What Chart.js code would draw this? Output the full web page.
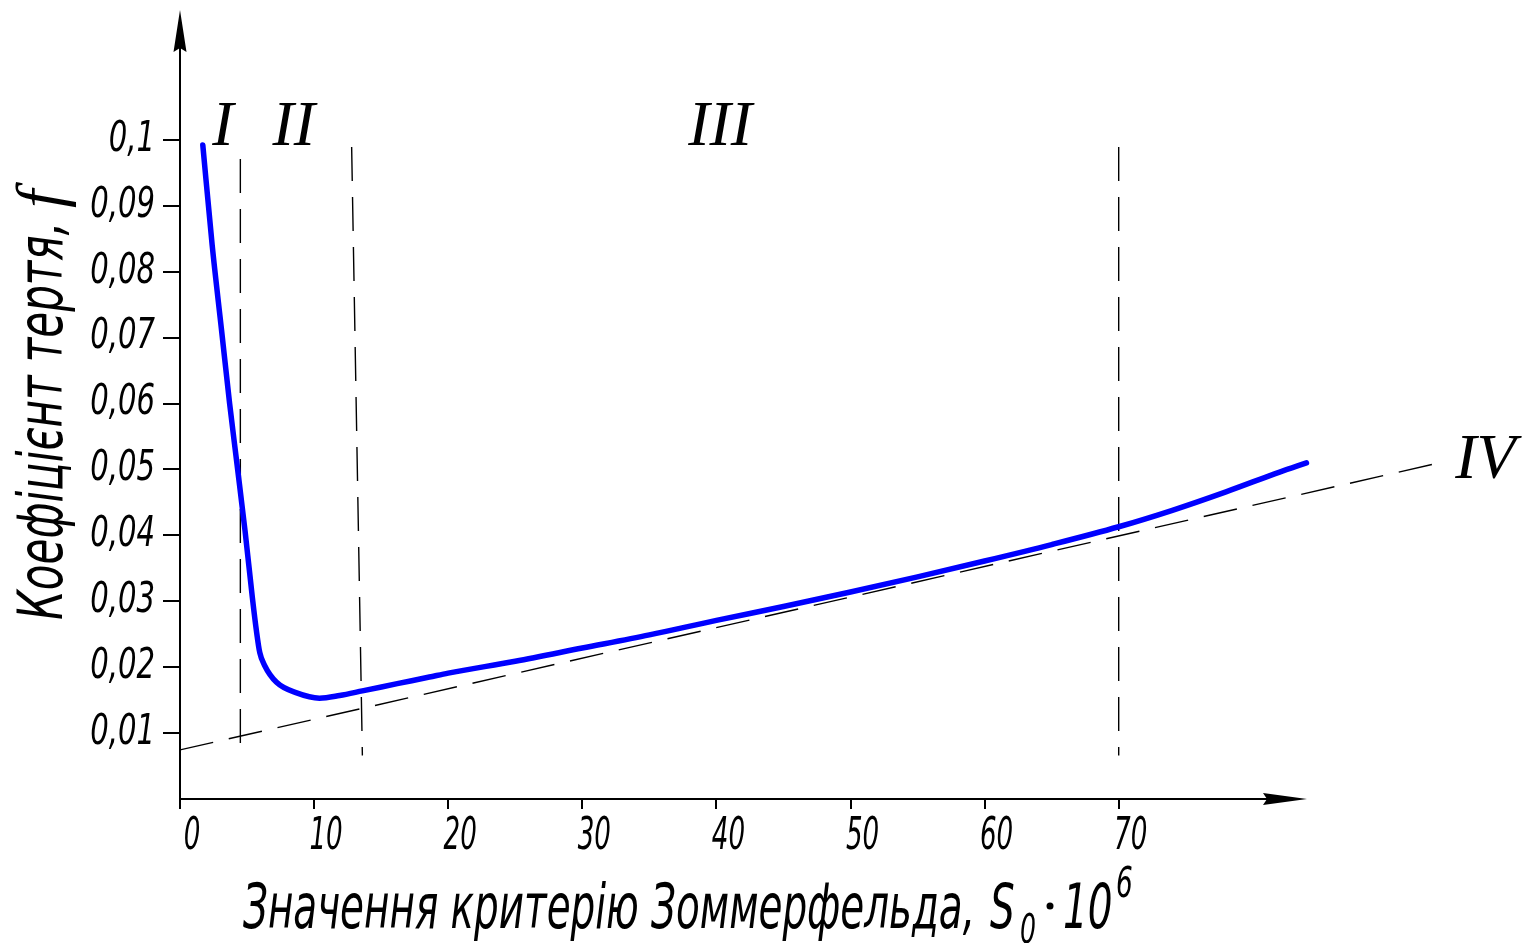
<!DOCTYPE html>
<html>
<head>
<meta charset="utf-8">
<title>Коефіцієнт тертя</title>
<script src="https://cdn.jsdelivr.net/npm/chart.js@4.4.1/dist/chart.umd.min.js"></script>
<style>
  html, body { margin: 0; padding: 0; background: #fff; }
  #wrap { width: 1530px; height: 943px; }
</style>
</head>
<body>
<div id="wrap"><canvas id="chart" width="1530" height="943"></canvas></div>
<script>
// ---- данi ----
const curveX = [1.7, 2.4, 3.1, 3.7, 4.25, 4.85, 5.4, 5.7, 5.95, 6.3, 7.2, 8.7, 10.4, 11.9, 13.6, 16.2, 18.6, 20,
                25, 30, 35, 40, 45, 50, 55, 60, 65, 70, 74, 78, 82, 84];
const curveY = [0.0992, 0.084, 0.0711, 0.060, 0.0508, 0.0407, 0.0305, 0.0255, 0.0222, 0.0203, 0.0177, 0.0161, 0.0153, 0.0157, 0.0164, 0.0175, 0.0185, 0.0191,
                0.0209, 0.0229, 0.0249, 0.0271, 0.0292, 0.0314, 0.0337, 0.0361, 0.0386, 0.0413, 0.0438, 0.0466, 0.0496, 0.0510];

// асимптота IV
const lineIVX = [0, 93.7];
const lineIVY = [0.00745, 0.0509];

// межі зон (вертикальні штрихові)
const boundTopX    = [4.5, 12.8, 70];
const boundBottomX = [4.5, 13.6, 70];
const boundTopY    = [0.0971, 0.0989, 0.0989];
const boundBottomY = [0.0066, 0.0066, 0.0066];

const xTickValues = [0, 10, 20, 30, 40, 50, 60, 70];
const yTickValues = [0.01, 0.02, 0.03, 0.04, 0.05, 0.06, 0.07, 0.08, 0.09, 0.1];

const zoneNames = ['I', 'II', 'III', 'IV'];
const zoneX = [2.4, 6.9, 37.9, 95.1];
const zoneY = [0.0992, 0.0992, 0.0992, 0.0487];

const NARROW = "'Liberation Sans Narrow', 'DejaVu Sans Condensed', 'Liberation Sans', sans-serif";
const SERIF = "'Liberation Serif', 'DejaVu Serif', serif";

const pts = (xs, ys) => xs.map((x, i) => ({ x, y: ys[i] }));

const dashed = (data) => ({
  data, borderColor: '#000', borderWidth: 1.4, borderDash: [34, 16],
  pointRadius: 0, fill: false, tension: 0
});

// вузький шрифт: стискаємо кожен підпис шкали по горизонталі навколо його точки прив'язки
function squeezeLabels(scale, k) {
  scale.drawLabels = function (area) {
    const ctx = this.ctx;
    for (const item of this.getLabelItems(area)) {
      const o = item.options;
      ctx.save();
      ctx.translate(o.translation[0], o.translation[1]);
      ctx.rotate(o.rotation || 0);
      ctx.scale(k, 1);
      ctx.font = item.font.string;
      ctx.fillStyle = o.color;
      ctx.textAlign = o.textAlign;
      ctx.textBaseline = o.textBaseline;
      ctx.fillText(item.label, 0, item.textOffset);
      ctx.restore();
    }
  };
}

// ---- оформлення: осі зі стрілками, підписи ----
const decor = {
  id: 'decor',
  beforeDraw(chart) {
    if (!chart.$squeezed) {
      squeezeLabels(chart.scales.x, 0.66);
      squeezeLabels(chart.scales.y, 0.77);
      chart.$squeezed = true;
    }
  },
  afterDatasetsDraw(chart) {
    const { ctx, scales: { x, y } } = chart;
    const x0 = x.getPixelForValue(0), y0 = y.getPixelForValue(0);
    const yTop = 10, xEnd = 1307;
    ctx.save();
    ctx.strokeStyle = '#000'; ctx.fillStyle = '#000'; ctx.lineWidth = 2;
    ctx.beginPath();
    ctx.moveTo(x0, y0); ctx.lineTo(x0, yTop + 30);
    ctx.moveTo(x0, y0); ctx.lineTo(xEnd - 30, y0);
    ctx.stroke();
    // стрілки
    ctx.beginPath();
    ctx.moveTo(x0, yTop); ctx.lineTo(x0 - 6.5, yTop + 42); ctx.lineTo(x0, yTop + 38); ctx.lineTo(x0 + 6.5, yTop + 42);
    ctx.closePath(); ctx.fill();
    ctx.beginPath();
    ctx.moveTo(xEnd, y0); ctx.lineTo(xEnd - 44, y0 - 6); ctx.lineTo(xEnd - 40, y0); ctx.lineTo(xEnd - 44, y0 + 6);
    ctx.closePath(); ctx.fill();

    // римські цифри зон
    ctx.font = 'italic 64px ' + SERIF;
    ctx.textBaseline = 'alphabetic'; ctx.textAlign = 'left';
    zoneNames.forEach((t, i) => ctx.fillText(t, x.getPixelForValue(zoneX[i]), y.getPixelForValue(zoneY[i])));

    // підпис осі X
    const fx = 'italic 62px ' + NARROW;
    ctx.font = fx;
    const main = 'Значення критерію Зоммерфельда,';
    const sx = 732 / ctx.measureText(main).width;
    const piece = (txt, px, py, font) => {
      ctx.save(); ctx.font = font; ctx.translate(px, py); ctx.scale(sx, 1);
      ctx.fillText(txt, 0, 0); ctx.restore();
    };
    piece(main, 243, 928, fx);
    piece('S', 990, 928, fx);
    piece('0', 1020, 943, 'italic 40px ' + NARROW);
    ctx.beginPath(); ctx.arc(1050, 906, 3.5, 0, Math.PI * 2); ctx.fill();
    piece('10', 1063, 928, fx);
    piece('6', 1116, 897, 'italic 42px ' + NARROW);

    // підпис осі Y
    ctx.save();
    ctx.translate(62, 620); ctx.rotate(-Math.PI / 2);
    ctx.font = fx;
    const ymain = 'Коефіцієнт тертя,';
    const sy = 398 / ctx.measureText(ymain).width;
    ctx.save(); ctx.scale(sy, 1); ctx.fillText(ymain, 0, 0); ctx.restore();
    ctx.font = 'italic 66px ' + SERIF;
    ctx.fillText('f', 412, 0);
    ctx.restore();

    ctx.restore();
  }
};

new Chart(document.getElementById('chart'), {
  type: 'line',
  data: {
    datasets: [
      {
        data: pts(curveX, curveY),
        borderColor: '#0000ff', borderWidth: 5.5, pointRadius: 0, fill: false,
        cubicInterpolationMode: 'monotone', borderCapStyle: 'round', borderJoinStyle: 'round'
      },
      dashed(pts(lineIVX, lineIVY)),
      ...boundTopX.map((_, i) => dashed([
        { x: boundTopX[i], y: boundTopY[i] },
        { x: boundBottomX[i], y: boundBottomY[i] }
      ]))
    ]
  },
  options: {
    responsive: false,
    animation: false,
    devicePixelRatio: 1,
    layout: { padding: { top: 8, right: 9, left: 0, bottom: 0 } },
    plugins: { legend: { display: false }, tooltip: { enabled: false } },
    scales: {
      x: {
        type: 'linear', min: 0, max: 100,
        afterBuildTicks: s => { s.ticks = xTickValues.map(v => ({ value: v })); },
        afterFit: s => { s.height = 144; s.paddingLeft = 0; s.paddingRight = 0; },
        border: { display: false },
        grid: { drawOnChartArea: false, tickLength: 10, lineWidth: 2, color: '#000' },
        ticks: {
          color: '#000', padding: 2, labelOffset: 12, maxRotation: 0, autoSkip: false,
          font: { family: NARROW, style: 'italic', size: 44 },
          callback: v => String(v)
        }
      },
      y: {
        type: 'linear', min: 0, max: 0.12,
        afterBuildTicks: s => { s.ticks = yTickValues.map(v => ({ value: v })); },
        afterFit: s => { s.width = 180; s.paddingTop = 0; s.paddingBottom = 0; },
        border: { display: false },
        grid: { drawOnChartArea: false, tickLength: 17, lineWidth: 2, color: '#000' },
        ticks: {
          color: '#000', padding: 8, autoSkip: false,
          font: { family: NARROW, style: 'italic', size: 42 },
          callback: v => String(Math.round(v * 100) / 100).replace('.', ',')
        }
      }
    }
  },
  plugins: [decor]
});
</script>
</body>
</html>
